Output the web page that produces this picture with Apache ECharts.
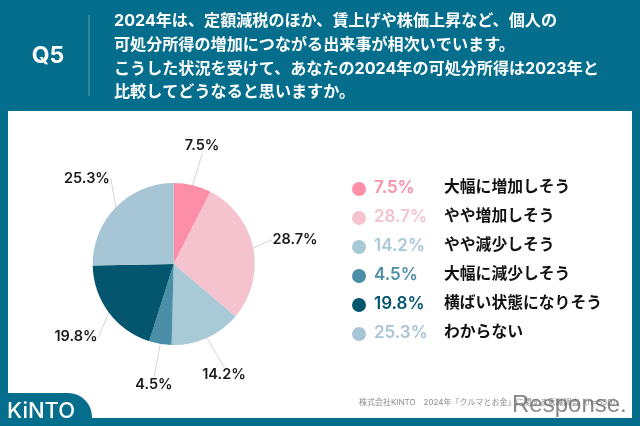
<!DOCTYPE html>
<html>
<head>
<meta charset="utf-8">
<style>
  html, body { margin: 0; padding: 0; background: #046e8c; }
  #chart { width: 640px; height: 426px; }
</style>
<script src="https://cdn.jsdelivr.net/npm/echarts@6/dist/echarts.min.js"></script>
</head>
<body>
<div id="chart"></div>
<script>
const categories = ["大幅に増加しそう", "やや増加しそう", "やや減少しそう", "大幅に減少しそう", "横ばい状態になりそう", "わからない"];
const shares = [7.5, 28.7, 14.2, 4.5, 19.8, 25.3];
const colors = ["#fd8ea8", "#f5c3cd", "#a8c9d6", "#4a8ea8", "#04566f", "#a6c6d6"];
const questionLines = [
  "2024年は、定額減税のほか、賃上げや株価上昇など、個人の",
  "可処分所得の増加につながる出来事が相次いでいます。",
  "こうした状況を受けて、あなたの2024年の可処分所得は2023年と",
  "比較してどうなると思いますか。",
];
const sourceNote = "株式会社KINTO　2024年「クルマとお金」に関する意識調査（n=530）";

const BLUE = "#046e8c";
const FONT = '"Inter", "Noto Sans CJK JP", sans-serif';

// where the slice labels sit in the original, as label centres
const labelSpots = [[202, 146], [295, 240], [224, 375], [154, 385], [76, 337], [87, 179]];

// one rich style per legend row so the percentage takes the slice colour
const legendRich = { name: { fontFamily: FONT, fontSize: 15.8, fontWeight: 700, color: "#111", width: 170 } };
colors.forEach((c, i) => {
  legendRich["p" + i] = { fontFamily: FONT, fontSize: 17, fontWeight: 600, color: c, width: 70 };
});

const chart = echarts.init(document.getElementById("chart"));
chart.setOption({
  animation: false,
  backgroundColor: BLUE,
  color: colors,
  legend: {
    orient: "vertical",
    left: 347,
    top: 174,
    icon: "circle",
    itemWidth: 14,
    itemHeight: 14,
    itemGap: 12,
    selectedMode: false,
    data: categories,
    formatter: (name) => {
      const i = categories.indexOf(name);
      return `{p${i}|${shares[i]}%}{name|${name}}`;
    },
    textStyle: { rich: legendRich, height: 20, padding: [0, 0, 0, 3] },
  },
  graphic: [
    { type: "rect", z: 0, shape: { x: 8, y: 111, width: 624, height: 307 }, style: { fill: "#fff" } },
    { type: "rect", z: 1, shape: { x: 0, y: 393, width: 92, height: 33, r: [0, 24, 0, 0] }, style: { fill: BLUE } },
    { type: "line", z: 1, shape: { x1: 89, y1: 15, x2: 89, y2: 96 }, style: { stroke: "#5f9fb5", lineWidth: 1 } },
    { type: "text", z: 2, x: 48, y: 56, style: { text: "Q5", fill: "#fff", font: "700 23px " + FONT, align: "center", verticalAlign: "middle" } },
    ...questionLines.map((line, i) => ({
      type: "text", z: 2, x: 114, y: 21.5 + i * 23.7,
      style: { text: line, fill: "#fff", font: "700 16.1px " + FONT, verticalAlign: "middle" },
    })),
    { type: "text", z: 2, x: 7, y: 411, style: { text: "KiNTO", fill: "#fff", font: "500 22px " + FONT, letterSpacing: 3.5, verticalAlign: "middle" } },
    { type: "text", z: 2, x: 359, y: 403, style: { text: sourceNote, fill: "#8a8a8a", font: "400 8px " + FONT, verticalAlign: "middle" } },
    { type: "text", z: 3, x: 512, y: 405, style: { text: "Response.", fill: "rgba(105,105,105,0.8)", font: '400 24px "Liberation Sans", sans-serif', verticalAlign: "middle" } },
  ],
  series: [{
    type: "pie",
    z: 5,
    center: [173.7, 264],
    radius: [0, 81],
    startAngle: 90,
    clockwise: true,
    silent: true,
    data: categories.map((name, i) => ({ name, value: shares[i] })),
    label: {
      show: true,
      formatter: "{c}%",
      color: "#1a1a1a",
      fontFamily: FONT,
      fontSize: 14.5,
      fontWeight: 600,
    },
    labelLine: { show: true, length: 20, length2: 1, smooth: false, lineStyle: { color: "#d5d5d5", width: 1 } },
    labelLayout: (params) => ({
      x: labelSpots[params.dataIndex][0],
      y: labelSpots[params.dataIndex][1],
      align: "center",
      verticalAlign: "middle",
    }),
    itemStyle: { borderWidth: 0 },
  }],
});
</script>
</body>
</html>
